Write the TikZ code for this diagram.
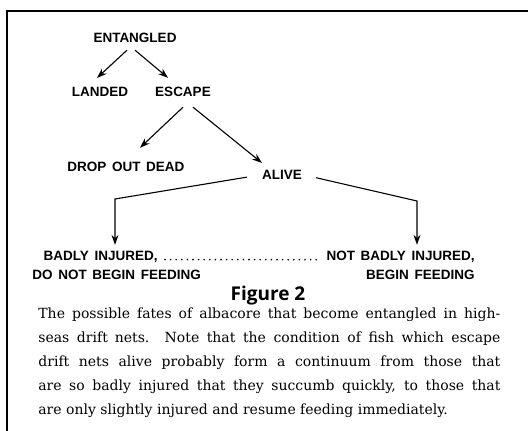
\documentclass[tikz,border=0pt]{standalone}
\usepackage{fontspec}
\setmainfont{DejaVu Serif}
\newfontfamily\fatefont[WordSpace=1.5]{Liberation Sans}
\newfontfamily\headfont{Open Sans}
\usetikzlibrary{arrows.meta}

\begin{document}
\begin{tikzpicture}[x=1pt, y=-1pt, thick,
        fate/.style = {font=\fatefont\bfseries\fontsize{13.5}{15}\selectfont, inner sep=2pt},
        arr/.style = {-{Stealth[length=10pt, width=7pt]}, line width=1.1pt}]
    \useasboundingbox (0,0) rectangle (528,431);
    \draw[line width=1.4pt] (7,431) -- (7,11) -- (528,11);

    \node[fate] (ent)   at (135,38)  {ENTANGLED};
    \node[fate] (land)  at (100,92)  {LANDED};
    \node[fate] (esc)   at (183,92)  {ESCAPE};
    \node[fate] (dead)  at (126,167) {DROP OUT DEAD};
    \node[fate] (alive) at (282,175) {ALIVE};

    \node[fate, anchor=east] (inj)    at (160,257) {BADLY INJURED,};
    \node[fate, anchor=west] (nofeed) at (30,275)  {DO NOT BEGIN FEEDING};
    \node[fate, anchor=east] (ninj)   at (477,257) {NOT BADLY INJURED,};
    \node[fate, anchor=east] (feed)   at (477,275) {BEGIN FEEDING};

    \coordinate (lb) at (115,199);
    \coordinate (rb) at (417,201);

    \draw[arr] ([xshift=-8pt,yshift=-5pt]ent.south) -- ([xshift=-3pt,yshift=7pt]land.north);
    \draw[arr] ([yshift=-5pt]ent.south) -- ([xshift=-15pt,yshift=7pt]esc.north);
    \draw[arr] ([yshift=-8pt]esc.south) -- ([xshift=14pt,yshift=12pt]dead.north);
    \draw[arr] ([xshift=10pt,yshift=-8pt]esc.south) -- ([xshift=-20pt,yshift=5pt]alive.north);

    \draw[arr, shorten <=13pt, shorten >=4pt] (alive.west) -- (lb) -- (lb |- inj.north);
    \draw[arr, shorten <=12pt, shorten >=4pt] (alive.east) -- (rb) -- (rb |- ninj.north);

    % \draw[dotted] (inj) -- (ninj);
    \draw[line width=1.8pt, line cap=round, dash pattern=on 0pt off 5.6pt]
        ([xshift=5pt,yshift=1pt]inj.base east) -- ([xshift=-4pt,yshift=1pt]ninj.base west);

    \node[font=\headfont\bfseries\fontsize{19}{22}\selectfont] (fig) at (268,296) {Figure 2};
    \node[anchor=north west, inner sep=0pt, text width=462pt, align=justify,
          font=\fontsize{14}{24}\selectfont] (cap) at (38,307)
        {The possible fates of albacore that become entangled in high-\linebreak
         seas drift\enspace nets. Note that the condition of fish which escape\linebreak
         drift nets alive probably form a continuum from those that\linebreak
         are so badly injured that they succumb quickly, to those that\linebreak
         are only slightly injured and resume feeding immediately.};
\end{tikzpicture}
\end{document}
